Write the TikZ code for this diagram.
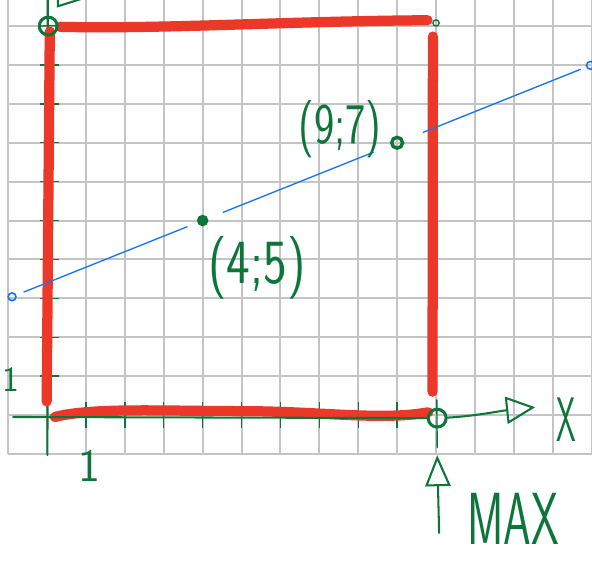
\documentclass[tikz,border=0pt]{standalone}
\usetikzlibrary{arrows.meta}
\definecolor{inkgreen}{RGB}{12,118,58}
\definecolor{inkred}{RGB}{236,56,40}
\definecolor{inkblue}{RGB}{28,116,236}
\definecolor{gridgray}{RGB}{196,196,196}
\begin{document}
\begin{tikzpicture}[font=\sffamily,
  gd/.style={draw=gridgray,line width=1.5pt},
  rd/.style={draw=inkred,line width=7.5pt,line cap=round},
  ax/.style={draw=inkgreen,line width=1.5pt,line cap=round},
  tk/.style={draw=inkgreen,line width=1pt},
  ln/.style={draw=inkblue,line width=1pt},
  ring/.style={circle,draw=inkgreen,line width=2.2pt,inner sep=0pt,minimum size=4.6mm},
  dot/.style={circle,draw=inkgreen,fill=inkgreen,line width=1pt,inner sep=0pt,minimum size=2.6mm},
  bdot/.style={circle,draw=inkblue,line width=1.2pt,inner sep=0pt,minimum size=2mm},
  lbl/.style={text=inkgreen,inner sep=0pt}]
  \useasboundingbox (-1.21,-3.75) rectangle (14.01,10.67);
  \clip (-1.21,-3.75) rectangle (14.01,10.67);
  \draw[gd] (-1,-1) grid (14.01,10.67);
  \foreach \i in {1,...,9} \draw[tk] (\i,-0.33) -- (\i,0.33);
  \foreach \i in {1,...,9} \draw[tk] (-0.17,\i) -- (0.3,\i);
  \draw[tk] (10.02,0.4) -- (10.03,-0.85);
  \draw[tk] (-0.23,10) -- (0.51,10.02);
  \draw[ax] (0.01,-1.03) -- (0.02,10.8);
  \draw[ax] (0.28,10.75) -- (0.28,10.51) -- (0.95,10.72);
  \draw[rd] (0.33,9.98) .. controls (3,9.92) and (6,10.12) .. (9.78,10.15);
  \draw[rd] (0.07,9.86) -- (-0.01,0.35);
  \draw[rd] (0.2,-0.05) .. controls (1.2,0.2) and (3,0.1) .. (5,0.1) .. controls (7,0.1) and (8.6,-0.15) .. (9.8,0.07);
  \draw[rd] (9.92,9.73) -- (9.91,0.6);
  \node[ring] (o0) at (0.03,10.0) {};
  \node[ring] (omax) at (10.03,-0.08) {};
  \node[dot,minimum size=1.6mm,fill=none] (c1) at (10.0,10.08) {};
  \node[dot] (p1) at (4,5) {};
  \node[ring,line width=2.5pt,minimum size=2.8mm] (p2) at (9,7) {};
  \node[bdot] (b0) at (-0.9,3.04) {};
  \node[bdot] (b1) at (13.97,8.99) {};
  \coordinate (xs) at (-0.87,-0.05);
  \coordinate (xe) at (12.55,0.2);
  \coordinate (m0) at (10.08,-3.03);
  \coordinate (mt) at (10.03,-1.03);
  \draw[ax,-{Triangle[open,length=7.5mm,width=7mm]}] (xs) -- (omax) .. controls (11,-0.03) and (11.6,0.1) .. (xe);
  \draw[ax,-{Triangle[open,length=8mm,width=6.5mm]}] (m0) -- (mt);
  \draw[ln,shorten <=0.2cm,shorten >=0.27cm] (b0) -- (p1);
  \draw[ln,shorten <=0.41cm,shorten >=0.47cm] (p1) -- (p2);
  \draw[ln,shorten <=0.53cm,shorten >=0.15cm] (p2) -- (b1);
  \node[lbl,font=\sffamily\fontsize{46}{46}\selectfont] (l45) at (5.4,3.78) {\scalebox{0.8}[1]{(4;5)}};
  \node[lbl,font=\sffamily\fontsize{42}{42}\selectfont] (l97) at (7.53,7.35) {\scalebox{0.75}[1]{(9;7)}};
  \node[lbl,font=\sffamily\fontsize{46}{46}\selectfont] (lx) at (13.34,-0.13) {\scalebox{0.5}[1]{X}};
  \node[lbl,font=\sffamily\fontsize{54}{54}\selectfont] (lmax) at (11.98,-2.68) {\scalebox{0.6}[1]{MAX}};
  \node[lbl,font=\sffamily\fontsize{34}{34}\selectfont] (l1x) at (1.1,-1.3) {1};
  \node[lbl,font=\sffamily\fontsize{26}{26}\selectfont] (l1y) at (-0.93,0.9) {1};
\end{tikzpicture}
\end{document}
